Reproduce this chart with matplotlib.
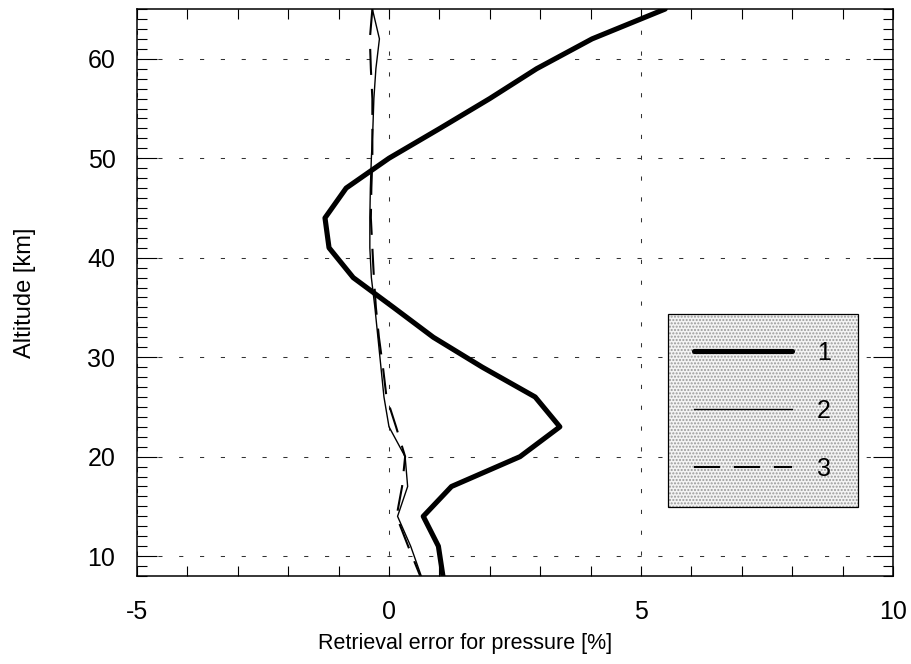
"""Pressure retrieval error profiles (matplotlib, Agg backend)."""
import matplotlib

matplotlib.use("Agg")
import matplotlib.pyplot as plt  # noqa: E402
from matplotlib.ticker import MultipleLocator  # noqa: E402

plt.rcParams["font.family"] = ["Liberation Sans", "DejaVu Sans"]
plt.rcParams["axes.unicode_minus"] = False

# altitude levels [km], 3 km apart
altitude = [65, 62, 59, 56, 53, 50, 47, 44, 41, 38, 35, 32, 29, 26, 23, 20, 17, 14, 11, 8]

# retrieval error for pressure [%]
err_1 = [5.48, 4.03, 2.93, 2.0, 1.01, 0.0, -0.85, -1.27, -1.19, -0.71, 0.09, 0.88,
         1.85, 2.9, 3.39, 2.6, 1.24, 0.68, 0.98, 1.07]
err_2 = [-0.33, -0.19, -0.26, -0.3, -0.32, -0.35, -0.37, -0.38, -0.38, -0.35, -0.28,
         -0.22, -0.16, -0.1, 0.0, 0.32, 0.37, 0.17, 0.43, 0.64]
err_3 = [-0.33, -0.38, -0.36, -0.33, -0.33, -0.33, -0.35, -0.36, -0.33, -0.3, -0.26,
         -0.2, -0.12, -0.05, 0.14, 0.32, 0.26, 0.15, 0.38, 0.62]
labels = ["1", "2", "3"]

fig = plt.figure(figsize=(9.11, 6.64), dpi=100)
ax = fig.add_axes([0.1504, 0.1325, 0.8298, 0.8539])

ax.plot(err_1, altitude, color="black", lw=3.7, solid_capstyle="round",
        solid_joinstyle="round", label=labels[0])
ax.plot(err_2, altitude, color="black", lw=1.0, label=labels[1])
ax.plot(err_3, altitude, color="black", lw=1.5, dashes=(12.5, 6.7), label=labels[2])

ax.set_xlim(-5, 10)
ax.set_ylim(8, 65)
ax.xaxis.set_major_locator(MultipleLocator(5))
ax.xaxis.set_minor_locator(MultipleLocator(1))
ax.yaxis.set_major_locator(MultipleLocator(10))
ax.yaxis.set_minor_locator(MultipleLocator(1))
ax.tick_params(which="both", direction="in", top=True, right=True, width=0.8,
               labelsize=18)
ax.tick_params(axis="x", which="major", length=7.2, pad=17)
ax.tick_params(axis="x", which="minor", length=7.2)
ax.tick_params(axis="y", which="major", length=14.4, pad=15.5)
ax.tick_params(axis="y", which="minor", length=7.2)
for sp in ax.spines.values():
    sp.set_linewidth(1.1)

ax.grid(True, which="major", color="#333333", lw=0.75, dashes=(4, 16))

ax.set_xlabel("Retrieval error for pressure [%]", fontsize=15.5)
ax.set_ylabel("Altitude [km]", fontsize=17)
ax.xaxis.set_label_coords(0.434, -0.1)
ax.yaxis.set_label_coords(-0.133, 0.5)

leg = ax.legend(loc="upper left", bbox_to_anchor=(0.702, 0.462), borderaxespad=0,
                fontsize=18, handlelength=3.92, handletextpad=1.0, labelspacing=1.36,
                borderpad=1.06, fancybox=False, framealpha=1)
frame = leg.get_frame()
frame.set_edgecolor("black")
frame.set_linewidth(0.9)
frame.set_facecolor("#f4f4f4")
frame.set_hatch(".....")
frame._hatch_color = (0.6, 0.6, 0.6, 1.0)

fig.savefig("out.png", dpi=100)
plt.close(fig)
